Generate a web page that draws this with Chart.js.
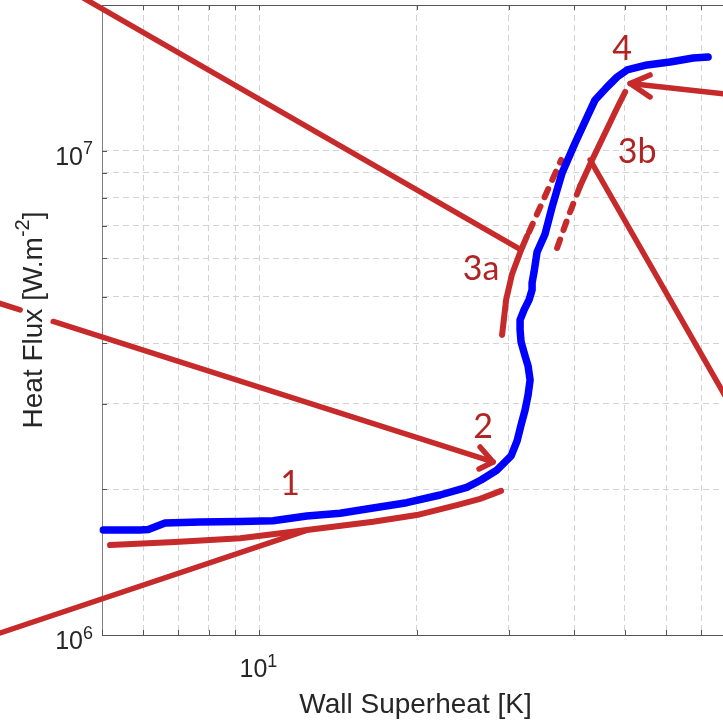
<!DOCTYPE html>
<html><head><meta charset="utf-8">
<script src="https://cdn.jsdelivr.net/npm/chart.js@4.4.0/dist/chart.umd.min.js"></script>
<style>html,body{margin:0;padding:0;background:#fff;overflow:hidden}canvas{display:block}</style>
</head><body>
<canvas id="c" width="723" height="724"></canvas>
<script>
// ---- axes ----
const xRange = [5, 77];
const yRange = [1e6, 2e7];
const xGridValues = [5, 6, 7, 8, 9, 10, 20, 30, 40, 50, 60, 70];
const yGridValues = [1e6, 2e6, 3e6, 4e6, 5e6, 6e6, 7e6, 8e6, 9e6, 1e7, 2e7];
const xTickValues = [10];
const xTickExponents = ['1'];
const yTickValues = [1e6, 1e7];
const yTickExponents = ['6', '7'];
const xTitle = 'Wall Superheat [K]';
const yTitleMain = 'Heat Flux [W.m';
const yTitleSup = '-2';
const yTitleEnd = ']';

// ---- measured boiling curve (blue) ----
const measuredX = [5.03, 5.91, 6.13, 6.60, 7.70, 9.19, 10.62, 12.32, 14.27, 16.50, 19.13, 22.16, 24.92, 26.54, 28.48, 30.29, 31.10, 31.65, 32.21, 32.64, 32.93, 32.64, 32.21, 31.65, 31.51, 31.51, 32.07, 32.78, 33.22, 33.22, 33.51, 33.96, 35.18, 36.28, 37.91, 40.15, 42.33, 43.84, 46.22, 48.30, 50.48, 55.12, 61.00, 67.51, 72.11];
const measuredY = [1.648e6, 1.648e6, 1.652e6, 1.703e6, 1.712e6, 1.716e6, 1.722e6, 1.761e6, 1.784e6, 1.829e6, 1.876e6, 1.946e6, 2.018e6, 2.090e6, 2.192e6, 2.343e6, 2.516e6, 2.715e6, 2.915e6, 3.131e6, 3.363e6, 3.594e6, 3.769e6, 4.029e6, 4.265e6, 4.473e6, 4.691e6, 4.920e6, 5.159e6, 5.334e6, 5.620e6, 6.180e6, 6.734e6, 7.655e6, 9.000e6, 1.0378e7, 1.1741e7, 1.2733e7, 1.3543e7, 1.4203e7, 1.4684e7, 1.5037e7, 1.5253e7, 1.5546e7, 1.5620e7];

// ---- regime sketches (red) ----
const regime1X = [5.18, 6.90, 9.19, 12.32, 16.50, 19.99, 23.85, 26.42, 28.98];
const regime1Y = [1.534e6, 1.556e6, 1.584e6, 1.648e6, 1.714e6, 1.769e6, 1.855e6, 1.910e6, 1.984e6];
const regime3aX = [29.11, 29.63, 30.42, 31.65, 32.50];
const regime3aY = [4.165e6, 4.920e6, 5.567e6, 6.239e6, 6.670e6];
const regime3aDashX = [32.78, 35.18, 37.75];
const regime3aDashY = [6.798e6, 8.065e6, 9.572e6];
const regime3bDashX = [37.09, 38.93, 41.05];
const regime3bDashY = [6.299e6, 7.298e6, 8.457e6];
const regime3bX = [41.05, 43.27, 45.81, 48.30, 50.04];
const regime3bY = [8.457e6, 9.572e6, 1.0884e7, 1.2255e7, 1.3225e7];

// ---- leader lines and arrows (red) ----
const leaderAX = [4.50, 31.65];
const leaderAY = [2.098e7, 6.239e6];
const leaderB1X = [3.124, 3.487];
const leaderB1Y = [4.873e6, 4.691e6];
const leaderB2X = [4.033, 27.98];
const leaderB2Y = [4.441e6, 2.277e6];
const arrow2HeadX = [26.42, 27.98, 26.30];
const arrow2HeadY = [2.445e6, 2.277e6, 2.202e6];
const leaderCX = [3.193, 12.23];
const leaderCY = [1.0096e6, 1.640e6];
const leaderDX = [42.89, 78.73];
const leaderDY = [9.572e6, 3.043e6];
const leader4X = [79.43, 51.15];
const leader4Y = [1.3071e7, 1.3770e7];
const arrow4HeadX = [55.85, 51.15, 55.85];
const arrow4HeadY = [1.4339e7, 1.3770e7, 1.2915e7];

// ---- regime labels ----
const regimeLabels = ['1', '2', '3a', '3b', '4'];
const regimeLabelX = [11.45, 26.77, 26.54, 52.75, 49.39];
const regimeLabelY = [1.946e6, 2.552e6, 5.410e6, 9.437e6, 1.5399e7];

const RED = '#c62a2a';
const RED_TEXT = '#b02424';
const BLUE = '#0000ff';
const INK = '#262626';

const pts = (xs, ys) => xs.map((v, i) => ({x: v, y: ys[i]}));
const redLine = (xs, ys, w, dash) => ({
  data: pts(xs, ys), borderColor: RED, borderWidth: w, borderDash: dash || [],
  borderCapStyle: 'round', borderJoinStyle: 'round'
});

const decor = {
  id: 'decor',
  beforeDatasetsDraw(chart) {
    const {ctx, scales: {x, y}, chartArea: a} = chart;
    ctx.save();
    ctx.strokeStyle = '#555';
    ctx.lineWidth = 1;
    ctx.beginPath();
    xGridValues.forEach(v => {
      const px = Math.round(x.getPixelForValue(v)) + 0.5;
      ctx.moveTo(px, a.bottom); ctx.lineTo(px, a.bottom - 5);
      ctx.moveTo(px, a.top); ctx.lineTo(px, a.top + 5);
    });
    yGridValues.forEach(v => {
      const py = Math.round(y.getPixelForValue(v)) + 0.5;
      ctx.moveTo(a.left, py); ctx.lineTo(a.left + 5, py);
    });
    ctx.stroke();
    ctx.restore();
  },
  afterDatasetsDraw(chart) {
    const {ctx, scales: {x, y}, chartArea: a} = chart;
    ctx.save();
    ctx.fillStyle = INK;
    const baseFont = '25px "Liberation Sans", Arial, sans-serif';
    const expFont = '18px "Liberation Sans", Arial, sans-serif';
    // y tick labels
    yTickValues.forEach((v, i) => {
      const py = y.getPixelForValue(v);
      ctx.font = expFont;
      const we = ctx.measureText(yTickExponents[i]).width;
      ctx.font = baseFont;
      const wb = ctx.measureText('10').width;
      const right = a.left - 9;
      ctx.textAlign = 'left'; ctx.textBaseline = 'alphabetic';
      ctx.fillText('10', right - we - wb, py + 14);
      ctx.font = expFont;
      ctx.fillText(yTickExponents[i], right - we, py + 3.5);
    });
    // x tick labels
    xTickValues.forEach((v, i) => {
      const px = x.getPixelForValue(v);
      ctx.font = expFont;
      const we = ctx.measureText(xTickExponents[i]).width;
      ctx.font = baseFont;
      const wb = ctx.measureText('10').width;
      const left = px - 1 - (wb + we) / 2;
      ctx.textAlign = 'left'; ctx.textBaseline = 'alphabetic';
      ctx.fillText('10', left, a.bottom + 42);
      ctx.font = expFont;
      ctx.fillText(xTickExponents[i], left + wb, a.bottom + 32);
    });
    // x title
    ctx.font = '28px "Liberation Sans", Arial, sans-serif';
    ctx.textAlign = 'center';
    ctx.fillText(xTitle, (a.left + a.right) / 2 + 3, a.bottom + 78);
    // y title (rotated, with superscript)
    const mainFont = '28px "Liberation Sans", Arial, sans-serif';
    const supFont = '20px "Liberation Sans", Arial, sans-serif';
    ctx.font = mainFont;
    const w1 = ctx.measureText(yTitleMain).width;
    const w3 = ctx.measureText(yTitleEnd).width;
    ctx.font = supFont;
    const w2 = ctx.measureText(yTitleSup).width;
    const total = w1 + w2 + w3;
    ctx.translate(42, (a.top + a.bottom) / 2);
    ctx.rotate(-Math.PI / 2);
    ctx.textAlign = 'left';
    let sx = -total / 2;
    ctx.font = mainFont; ctx.fillText(yTitleMain, sx, 0); sx += w1;
    ctx.font = supFont; ctx.fillText(yTitleSup, sx, -13); sx += w2;
    ctx.font = mainFont; ctx.fillText(yTitleEnd, sx, 0);
    ctx.setTransform(1, 0, 0, 1, 0, 0);
    // regime labels
    ctx.fillStyle = RED_TEXT;
    ctx.font = '34px Lato, "Open Sans", sans-serif';
    ctx.textAlign = 'center';
    regimeLabels.forEach((t, i) => {
      ctx.fillText(t, x.getPixelForValue(regimeLabelX[i]), y.getPixelForValue(regimeLabelY[i]));
    });
    ctx.restore();
  }
};

const gridCommon = {color: '#d3d3d3', lineWidth: 1, drawTicks: false};

new Chart(document.getElementById('c'), {
  type: 'line',
  data: {
    datasets: [
      {data: pts(measuredX, measuredY), borderColor: BLUE, borderWidth: 7.5, borderCapStyle: 'round', borderJoinStyle: 'round'},
      redLine(regime1X, regime1Y, 6),
      redLine(regime3aX, regime3aY, 6),
      redLine(regime3aDashX, regime3aDashY, 6, [9, 10]),
      redLine(regime3bDashX, regime3bDashY, 6, [9, 10]),
      redLine(regime3bX, regime3bY, 6),
      redLine(leaderAX, leaderAY, 5.5),
      redLine(leaderB1X, leaderB1Y, 5.5),
      redLine(leaderB2X, leaderB2Y, 5.5),
      redLine(arrow2HeadX, arrow2HeadY, 5.5),
      redLine(leaderCX, leaderCY, 5.5),
      redLine(leaderDX, leaderDY, 5.5),
      redLine(leader4X, leader4Y, 5.5),
      redLine(arrow4HeadX, arrow4HeadY, 5.5)
    ]
  },
  options: {
    responsive: false,
    devicePixelRatio: 1,
    animation: false,
    layout: {padding: 0},
    datasets: {line: {pointRadius: 0, pointHoverRadius: 0, tension: 0, fill: false, clip: false}},
    plugins: {legend: {display: false}, tooltip: {enabled: false}},
    scales: {
      x: {
        type: 'logarithmic', position: 'bottom', min: xRange[0], max: xRange[1],
        afterBuildTicks: s => { s.ticks = xGridValues.map(v => ({value: v})); },
        afterFit: s => { s.height = 89; },
        ticks: {display: false},
        grid: gridCommon,
        border: {display: true, color: '#555', width: 1, dash: [6, 4]}
      },
      xTop: {
        type: 'logarithmic', position: 'top', min: xRange[0], max: xRange[1],
        afterFit: s => { s.height = 5; },
        ticks: {display: false},
        grid: {drawOnChartArea: false, drawTicks: false},
        border: {display: true, color: '#555', width: 1}
      },
      y: {
        type: 'logarithmic', position: 'left', min: yRange[0], max: yRange[1],
        afterBuildTicks: s => { s.ticks = yGridValues.map(v => ({value: v})); },
        afterFit: s => { s.width = 102; },
        ticks: {display: false},
        grid: gridCommon,
        border: {display: true, color: '#808080', width: 1, dash: [6, 4]}
      }
    }
  },
  plugins: [decor]
});
</script>
</body></html>
